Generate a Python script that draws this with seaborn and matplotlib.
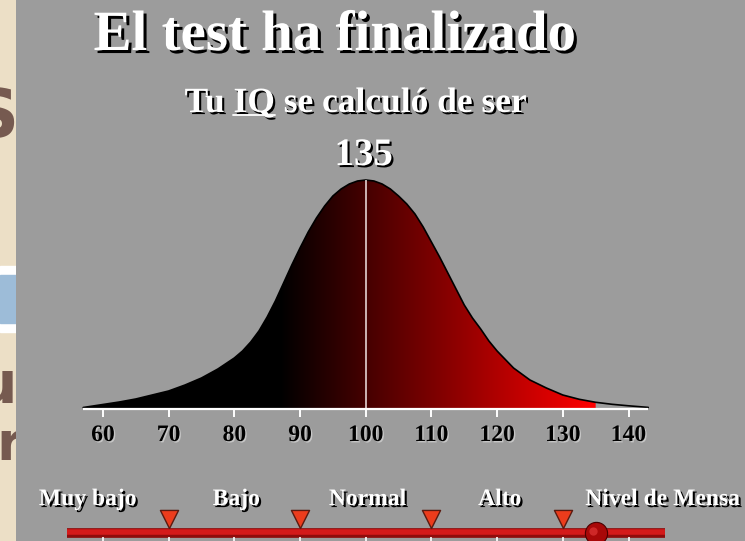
import numpy as np
import matplotlib
matplotlib.use("Agg")
import matplotlib.pyplot as plt
import matplotlib.patheffects as pe
from matplotlib.patches import Polygon, Rectangle
import seaborn as sns

# --- datos ---
puntaje = 135
iq = [57, 60, 62.5, 65, 67.5, 70, 72.5, 75, 77.5, 80, 81.25, 82.5, 83.75, 85, 86.25, 87.5,
      88.75, 90, 91.25, 92.5, 93.75, 95, 96.25, 97.5, 98.75, 100, 101.25, 102.5, 103.75,
      105, 106.25, 107.5, 108.75, 110, 111.25, 112.5, 113.75, 115, 116.25, 117.5, 118.75,
      120, 122.5, 125, 127.5, 130, 132.5, 135, 137.5, 140, 143]
altura = [1.5, 4.5, 7, 10, 14, 18, 24, 31, 40, 51, 58, 67, 78, 92, 108, 126,
          144, 161, 177, 191, 203, 213, 220, 225, 228, 229, 228, 225, 220,
          213, 205, 195, 182, 167, 152, 136, 120, 104, 91, 80, 68,
          58, 41, 29, 21, 14, 9.7, 6.7, 4.7, 3.2, 1.6]
ticks = [60, 70, 80, 90, 100, 110, 120, 130, 140]
niveles = ["Muy bajo", "Bajo", "Normal", "Alto", "Nivel de Mensa"]
pos_niveles = [57.7, 80.3, 100.3, 120.4, 145.2]
cortes = [70, 90, 110, 130]

sns.set_theme(style="white")
plt.rcParams["font.family"] = ["Liberation Serif", "DejaVu Serif"]

fig = plt.figure(figsize=(7.45, 5.41), dpi=100, facecolor="#ecdfc6")

# franja izquierda (fondo de la diapositiva)
ax_bg = fig.add_axes([0, 0, 1, 1])
ax_bg.set_xlim(0, 745)
ax_bg.set_ylim(541, 0)
ax_bg.set_axis_off()
ax_bg.add_patch(Rectangle((0, 266), 30, 66, color="white"))
ax_bg.add_patch(Rectangle((0, 275), 30, 48, color="#9dbcd8"))
for txt, x, y, fs in [("S", 18, 137, 48), ("u", 17, 403, 42), ("or", 24, 460, 38)]:
    ax_bg.text(x, y, txt, ha="right", va="baseline", fontsize=fs, color="#765a50",
               fontweight="bold", family=["DejaVu Sans"])

# panel gris principal
ax = fig.add_axes([16 / 745, 0, 729 / 745, 1])
ax.set_facecolor("#9c9c9c")
ax.set_xlim(46.77, 157.73)
ax.set_ylim(-132, 409)
ax.set_xticks([])
ax.set_yticks([])
for s in ax.spines.values():
    s.set_visible(False)

# relleno degradado hasta el puntaje
iq_arr = np.array(iq)
alt_arr = np.array(altura)
m = iq_arr <= puntaje
verts = list(zip(iq_arr[m], alt_arr[m])) + [(puntaje, 0), (iq_arr[0], 0)]
clip = Polygon(verts, closed=True, facecolor="none", edgecolor="none", transform=ax.transData)
ax.add_patch(clip)
xs = np.linspace(iq_arr[0], puntaje, 400)
rojo = np.clip((xs - 87) / (puntaje - 87), 0, 1)
grad = np.zeros((2, len(xs), 3))
grad[:, :, 0] = rojo
im = ax.imshow(grad, extent=[iq_arr[0], puntaje, 0, 232], aspect="auto",
               interpolation="bilinear", origin="lower", zorder=2)
im.set_clip_path(clip)

sns.lineplot(x=iq, y=altura, ax=ax, color="black", linewidth=1.2, zorder=3,
             sort=False, estimator=None)
ax.vlines(100, 0, max(altura), color="#f2e4e4", linewidth=1.1, zorder=4)
ax.hlines(0, iq[0], iq[-1], color="white", linewidth=1.6, zorder=4)
ax.vlines(ticks, -8, 0, color="white", linewidth=1.4, zorder=4)

sombra_t = [pe.SimplePatchShadow(offset=(1.0, -1.0), shadow_rgbFace="#d8d8d8", alpha=0.7), pe.Normal()]
for t in ticks:
    ax.text(t, -32, str(t), ha="center", va="baseline", fontsize=17, fontweight="bold",
            color="black", path_effects=sombra_t, zorder=5)

# textos superiores
sombra = [pe.SimplePatchShadow(offset=(2.2, -2.2), shadow_rgbFace="black", alpha=1.0), pe.Normal()]
sombra_s = [pe.SimplePatchShadow(offset=(1.5, -1.5), shadow_rgbFace="black", alpha=1.0), pe.Normal()]
ax.text(95.33, 359, "El test ha finalizado", ha="center", va="baseline", fontsize=41,
        fontweight="bold", color="white", path_effects=sombra, zorder=5)
sub_kw = dict(fontsize=25.5, fontweight="bold", color="white", zorder=5)
sub = ax.text(98.5, 297, "Tu IQ se calculó de ser", ha="center", va="baseline",
              path_effects=sombra_s, **sub_kw)

# subrayado bajo "IQ", medido sobre el texto dibujado
fig.canvas.draw()
rend = fig.canvas.get_renderer()
def ancho(s):
    t = ax.text(0, 0, s, **sub_kw)
    w = t.get_window_extent(rend).width
    t.remove()
    return w
x0 = sub.get_window_extent(rend).x0
w_tuiq = ancho("Tu IQ")
w_iq = ancho("IQ")
inv = ax.transData.inverted()
xa = inv.transform((x0 + w_tuiq - w_iq, 0))[0]
xb = inv.transform((x0 + w_tuiq, 0))[0]
ax.plot([xa, xb], [294, 294], color="white", linewidth=1.3, zorder=5,
        path_effects=sombra_s)

ax.text(99.7, 244, str(puntaje), ha="center", va="baseline", fontsize=28,
        fontweight="bold", color="white", path_effects=sombra_s, zorder=5)

# barra inferior
ax.plot([54.55, 145.55], [-123.5, -123.5], color="#8e0c0c", linewidth=7, solid_capstyle="butt", zorder=3)
ax.plot([54.55, 145.55], [-123.0, -123.0], color="#d41a1a", linewidth=4, solid_capstyle="butt", zorder=3)
ax.vlines(ticks, -132, -128, color="white", linewidth=1.2, zorder=3)
sns.scatterplot(x=cortes, y=[-110] * len(cortes), ax=ax, marker="v", s=170,
                color="#ec3c1c", edgecolor="#5a1a10", linewidth=1.0, zorder=4)
ax.plot([puntaje], [-123.5], marker="o", markersize=16, color="#a80808",
        markeredgecolor="#4a0000", markeredgewidth=0.8, zorder=5)
ax.plot([puntaje - 0.4], [-121.5], marker="o", markersize=6, color="#d83030",
        markeredgewidth=0, alpha=0.8, zorder=6)

for txt, x in zip(niveles, pos_niveles):
    ax.text(x, -96, txt, ha="center", va="baseline", fontsize=17, fontweight="bold",
            color="white", path_effects=sombra_s, zorder=5)

fig.savefig("out.png", dpi=100, facecolor=fig.get_facecolor())
